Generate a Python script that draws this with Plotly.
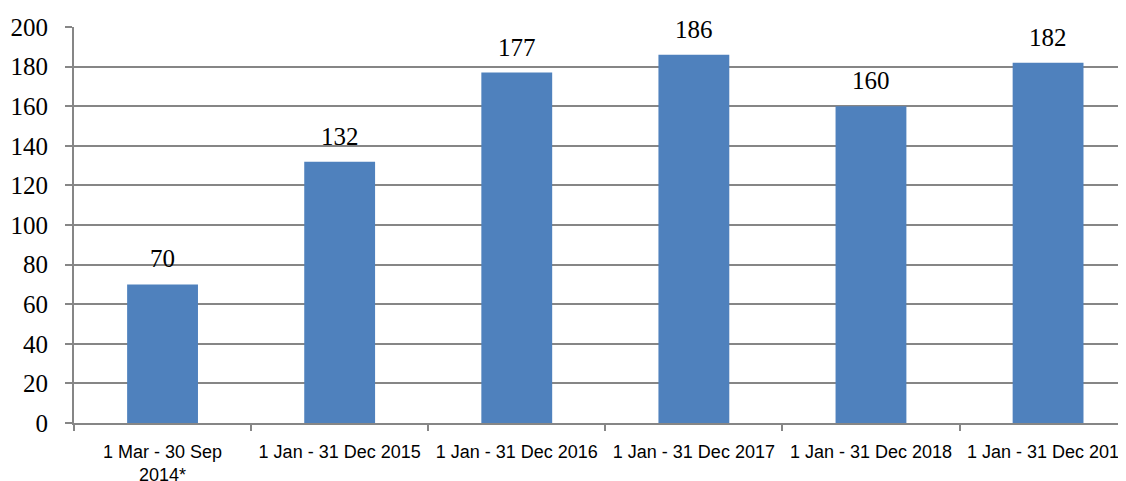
import plotly.graph_objects as go

categories = ["1 Mar - 30 Sep<br>2014*", "1 Jan - 31 Dec 2015", "1 Jan - 31 Dec 2016",
              "1 Jan - 31 Dec 2017", "1 Jan - 31 Dec 2018", "1 Jan - 31 Dec 2019"]
values = [70, 132, 177, 186, 160, 182]
y_ticks = [0, 20, 40, 60, 80, 100, 120, 140, 160, 180, 200]

fig = go.Figure()
fig.add_trace(go.Bar(x=categories, y=values, marker=dict(color="#4F81BD", line=dict(width=0)),
                     width=0.4))
for c, v in zip(categories, values):
    fig.add_annotation(x=c, y=v, text=str(v), showarrow=False, yanchor="bottom", yshift=10,
                       font=dict(family="Liberation Serif", size=25, color="#000000"))

fig.update_layout(
    width=1126, height=481,
    margin=dict(l=66, r=8, t=19, b=66),
    plot_bgcolor="white", paper_bgcolor="white",
    showlegend=False,
)
fig.update_xaxes(
    type="category", range=[-0.5, 5.44], automargin=False,
    showline=True, linecolor="#868686", linewidth=2,
    ticks="outside", tickson="boundaries", ticklen=6, tickcolor="#868686", tickwidth=2,
    tickfont=dict(family="Liberation Sans", size=18, color="#000000"),
    ticklabelstandoff=11,
    showgrid=False,
)
fig.update_yaxes(
    range=[0, 200], tickvals=y_ticks, automargin=False,
    showline=True, linecolor="#868686", linewidth=2,
    ticks="outside", ticklen=7, tickcolor="#868686", tickwidth=2,
    showgrid=True, gridcolor="#868686", gridwidth=2,
    zeroline=False,
    tickfont=dict(family="Liberation Serif", size=25, color="#000000"),
    ticklabelstandoff=12,
)
fig.write_html("out.html")
